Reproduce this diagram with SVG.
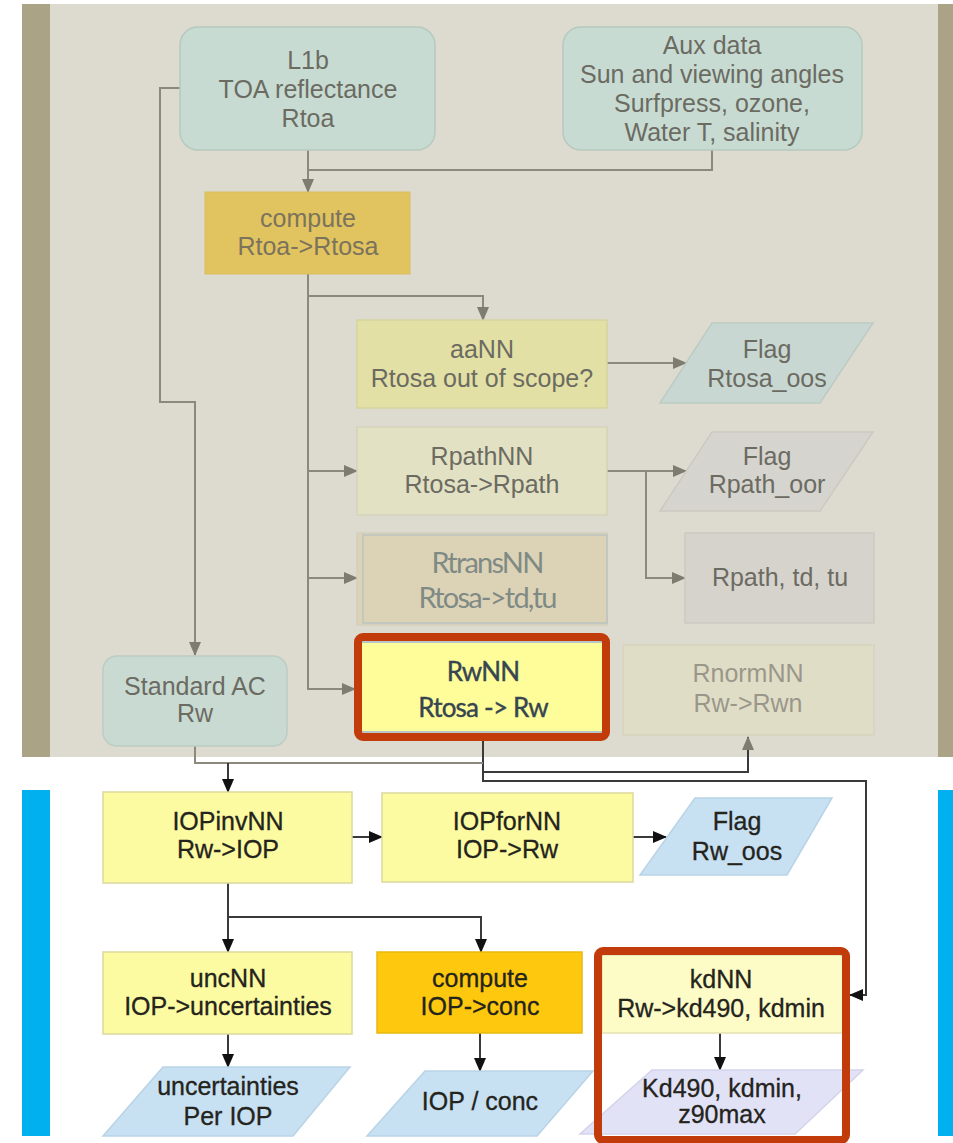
<svg xmlns="http://www.w3.org/2000/svg" width="953" height="1143" viewBox="0 0 953 1143">
<style>
.t{font-family:"Liberation Sans",Arial,sans-serif;font-size:25px;text-anchor:middle;fill:#6b6b62}
.tf{font-family:"Liberation Sans",Arial,sans-serif;font-size:25px;text-anchor:middle;fill:#9a978a}
.tb{font-family:"Liberation Sans",Arial,sans-serif;font-size:25px;text-anchor:middle;fill:#24241c;stroke:#24241c;stroke-width:0.3}
.tl{font-family:Lato,"Liberation Sans",sans-serif;text-anchor:middle}
.cg{fill:none;stroke:#8c897c;stroke-width:2}
.ck{fill:none;stroke:#3a3a3a;stroke-width:2}
.red{fill:none;stroke:#c23b0a;stroke-width:8}
</style>
<defs>
<marker id="ag" markerUnits="userSpaceOnUse" markerWidth="14" markerHeight="12" refX="13" refY="6" orient="auto"><path d="M0,0 L14,6 L0,12 Z" fill="#7e7b70"/></marker>
<marker id="ak" markerUnits="userSpaceOnUse" markerWidth="14" markerHeight="12" refX="13" refY="6" orient="auto"><path d="M0,0 L14,6 L0,12 Z" fill="#111"/></marker>
</defs>
<rect x="0" y="0" width="953" height="1143" fill="#ffffff"/>
<rect x="22" y="4" width="931" height="753" fill="#aba385"/>
<rect x="50" y="4" width="888" height="753" fill="#dddbcf"/>
<rect x="22" y="790" width="28" height="346" fill="#00b0ef"/>
<rect x="938" y="790" width="15" height="346" fill="#00b0ef"/>

<g id="connectors">
<path class="cg" d="M308,150 V192" marker-end="url(#ag)"/>
<path class="cg" d="M712,150 V170 H308"/>
<path class="cg" d="M180,88 H160 V402 H195 V655" marker-end="url(#ag)"/>
<path class="cg" d="M308,274 V296 H483 V320" marker-end="url(#ag)"/>
<path class="cg" d="M308,296 V689 H355" marker-end="url(#ag)"/>
<path class="cg" d="M308,471 H357" marker-end="url(#ag)"/>
<path class="cg" d="M308,578 H357" marker-end="url(#ag)"/>
<path class="cg" d="M607,363 H686" marker-end="url(#ag)"/>
<path class="cg" d="M607,471 H686" marker-end="url(#ag)"/>
<path class="cg" d="M646,471 V578 H685" marker-end="url(#ag)"/>
<path class="ck" d="M483,741 V772 H748 V737" marker-end="url(#ag)"/>
<path class="ck" d="M483,772 V781 H866 V995 H850" marker-end="url(#ak)"/>
<path class="cg" d="M195,746 V763 H483"/>
<path class="ck" d="M228,763 V792" marker-end="url(#ak)"/>
<path class="ck" d="M352,837 H382" marker-end="url(#ak)"/>
<path class="ck" d="M633,837 H666" marker-end="url(#ak)"/>
<path class="ck" d="M228,883 V952" marker-end="url(#ak)"/>
<path class="ck" d="M228,917 H481 V952" marker-end="url(#ak)"/>
<path class="ck" d="M228,1034 V1067" marker-end="url(#ak)"/>
<path class="ck" d="M480,1033 V1071" marker-end="url(#ak)"/>
<path class="ck" d="M720,1033 V1070" marker-end="url(#ak)"/>
</g>

<g id="l1b">
<rect x="180" y="27" width="255" height="123" rx="18" fill="#c8dbd2" stroke="#b6c9be" stroke-width="1.5"/>
<text class="t" x="308" y="69">L1b</text>
<text class="t" x="308" y="98">TOA reflectance</text>
<text class="t" x="308" y="127">Rtoa</text>
</g>
<g id="aux">
<rect x="563" y="27" width="299" height="123" rx="18" fill="#c8dbd2" stroke="#b6c9be" stroke-width="1.5"/>
<text class="t" x="712" y="54">Aux data</text>
<text class="t" x="712" y="83">Sun and viewing angles</text>
<text class="t" x="712" y="112">Surfpress, ozone,</text>
<text class="t" x="712" y="141">Water T, salinity</text>
</g>
<g id="compute1">
<rect x="205" y="192" width="205" height="82" fill="#e1c460" stroke="#d8bd62" stroke-width="1"/>
<text class="t" x="308" y="227" style="fill:#7b735c">compute</text>
<text class="t" x="308" y="255" style="fill:#7b735c">Rtoa-&gt;Rtosa</text>
</g>
<g id="aann">
<rect x="357" y="320" width="250" height="88" fill="#e3e0a5" stroke="#d6d3a0" stroke-width="1.5"/>
<text class="t" x="482" y="358">aaNN</text>
<text class="t" x="482" y="387">Rtosa out of scope?</text>
</g>
<g id="flag1">
<path d="M712,323 H873 L820,403 H660 Z" fill="#c9d7d2" stroke="#bccbc4" stroke-width="1.5"/>
<text class="t" x="767" y="358">Flag</text>
<text class="t" x="767" y="387">Rtosa_oos</text>
</g>
<g id="rpathnn">
<rect x="357" y="427" width="250" height="88" fill="#e3e1c3" stroke="#d5d3b9" stroke-width="1.5"/>
<text class="t" x="482" y="465">RpathNN</text>
<text class="t" x="482" y="493">Rtosa-&gt;Rpath</text>
</g>
<g id="flag2">
<path d="M712,432 H873 L820,511 H660 Z" fill="#d6d4cf" stroke="#cbc9c2" stroke-width="1.5"/>
<text class="t" x="767" y="465">Flag</text>
<text class="t" x="767" y="493">Rpath_oor</text>
</g>
<g id="rtransnn">
<rect x="357" y="533" width="250" height="92" fill="#dcd3b6" stroke="#d4cfbd" stroke-width="1.5"/>
<rect x="363" y="535" width="244" height="88" fill="#dcd3b6" stroke="#b9c3c2" stroke-width="1.5"/>
<text class="tl" x="487" y="573" font-size="29" letter-spacing="-1.8" fill="#808a85">RtransNN</text>
<text class="tl" x="487" y="608" font-size="29" letter-spacing="-1.8" fill="#808a85">Rtosa-&gt;td,tu</text>
</g>
<g id="rpathtdtu">
<rect x="685" y="533" width="189" height="90" fill="#d6d3cc" stroke="#cdcac2" stroke-width="1.5"/>
<text class="t" x="780" y="586">Rpath, td, tu</text>
</g>
<g id="stdac">
<rect x="103" y="656" width="184" height="90" rx="14" fill="#c9dad2" stroke="#bccdc4" stroke-width="1.5"/>
<text class="t" x="195" y="695">Standard AC</text>
<text class="t" x="195" y="722">Rw</text>
</g>
<g id="rwnn">
<rect x="362" y="641" width="240" height="92" fill="#fefd9a"/>
<line x1="362" y1="642" x2="602" y2="642" stroke="#b8c6c9" stroke-width="2"/>
<line x1="362" y1="732" x2="602" y2="732" stroke="#b8c6c9" stroke-width="2"/>
<rect class="red" x="358" y="637" width="248" height="100" rx="5"/>
<text class="tl" x="483" y="681" font-size="26" letter-spacing="-0.8" fill="#36454f" stroke="#36454f" stroke-width="0.4">RwNN</text>
<text class="tl" x="483" y="717" font-size="26" letter-spacing="-0.8" fill="#36454f" stroke="#36454f" stroke-width="0.4">Rtosa -&gt; Rw</text>
</g>
<g id="rnormnn">
<rect x="623" y="645" width="251" height="90" fill="#e0ddc6" stroke="#d6d3bd" stroke-width="1.5"/>
<text class="tf" x="748" y="682">RnormNN</text>
<text class="tf" x="748" y="712">Rw-&gt;Rwn</text>
</g>

<g id="iopinvnn">
<rect x="103" y="792" width="249" height="91" fill="#fdfba2" stroke="#dcd99c" stroke-width="1.5"/>
<text class="tb" x="228" y="830">IOPinvNN</text>
<text class="tb" x="228" y="858">Rw-&gt;IOP</text>
</g>
<g id="iopfornn">
<rect x="382" y="793" width="251" height="89" fill="#fdfba2" stroke="#dcd99c" stroke-width="1.5"/>
<text class="tb" x="507" y="830">IOPforNN</text>
<text class="tb" x="507" y="858">IOP-&gt;Rw</text>
</g>
<g id="flag3">
<path d="M695,798 H832 L787,875 H640 Z" fill="#c7e0f2" stroke="#b9d3e6" stroke-width="1.5"/>
<text class="tb" x="737" y="830">Flag</text>
<text class="tb" x="737" y="860">Rw_oos</text>
</g>
<g id="uncnn">
<rect x="103" y="952" width="249" height="82" fill="#fdfba2" stroke="#dcd99c" stroke-width="1.5"/>
<text class="tb" x="228" y="987">uncNN</text>
<text class="tb" x="228" y="1015">IOP-&gt;uncertainties</text>
</g>
<g id="compute2">
<rect x="377" y="952" width="205" height="81" fill="#fdc80e" stroke="#e8b90f" stroke-width="1.5"/>
<text class="tb" x="480" y="987">compute</text>
<text class="tb" x="480" y="1015">IOP-&gt;conc</text>
</g>
<g id="kdnn">
<rect x="602" y="955" width="241" height="78" fill="#fdfcc6" stroke="#e3e1b4" stroke-width="1.5"/>
<text class="tb" x="721" y="988">kdNN</text>
<text class="tb" x="721" y="1017">Rw-&gt;kd490, kdmin</text>
</g>
<g id="uncertainties">
<path d="M163,1067 H350 L293,1136 H103 Z" fill="#c7e0f2" stroke="#b9d3e6" stroke-width="1.5"/>
<text class="tb" x="228" y="1095">uncertainties</text>
<text class="tb" x="228" y="1125">Per IOP</text>
</g>
<g id="iopconc">
<path d="M425,1071 H593 L537,1136 H367 Z" fill="#c7e0f2" stroke="#b9d3e6" stroke-width="1.5"/>
<text class="tb" x="480" y="1110">IOP / conc</text>
</g>
<g id="kd490">
<path d="M652,1070 H863 L795,1134 H580 Z" fill="#e2e2f7" stroke="#d3d3ea" stroke-width="1.5"/>
<text class="tb" x="722" y="1097">Kd490, kdmin,</text>
<text class="tb" x="722" y="1123">z90max</text>
</g>
<g id="kd-frame">
<rect class="red" x="598" y="951" width="248" height="189" rx="5"/>
</g>
</svg>
